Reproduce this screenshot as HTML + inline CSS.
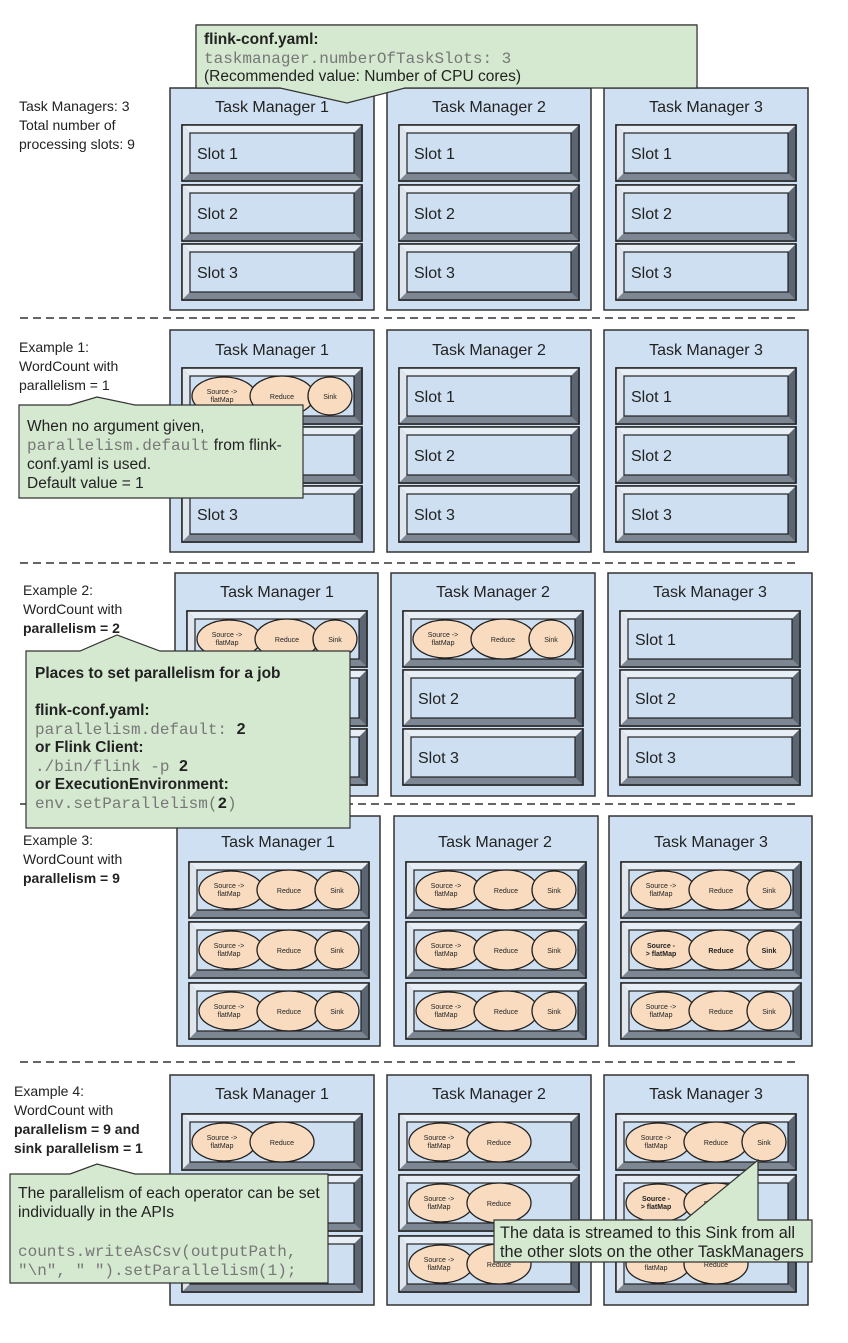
<!DOCTYPE html>
<html><head><meta charset="utf-8"><style>
html,body{margin:0;padding:0;background:#fff;width:848px;height:1343px;overflow:hidden}
svg{display:block}
text{font-family:"Liberation Sans",sans-serif;fill:#222}
.m{font-family:"Liberation Mono",monospace;fill:#777}
.tm{font-size:16px;text-anchor:middle}
.sl{font-size:16px}
.op{font-size:7px;text-anchor:middle}
.lb{font-size:14px}
.cl{font-size:15.5px}
.b{font-weight:bold}
</style></head><body>
<svg width="848" height="1343" viewBox="0 0 848 1343" xmlns="http://www.w3.org/2000/svg">
<defs>
<g id="slot">
<rect x="0" y="0" width="180" height="56" fill="#6f7b8a" stroke="#222" stroke-width="1.5"/>
<polygon points="0,0 180,0 172,8 8,8" fill="#e8eef5"/>
<polygon points="0,0 8,8 8,48 0,56" fill="#dfe6ee"/>
<polygon points="0,56 8,48 172,48 180,56" fill="#7d8794"/>
<polygon points="180,0 172,8 172,48 180,56" fill="#5c6673"/>
<rect x="0" y="0" width="180" height="56" fill="none" stroke="#222" stroke-width="1.5"/>
<rect x="8" y="8" width="164" height="40" fill="#cddff1" stroke="#222" stroke-width="1.2"/>
</g>
<g id="e2">
<ellipse cx="42" cy="28" rx="32" ry="19" fill="#f9dcc0" stroke="#222" stroke-width="1.3"/>
<ellipse cx="100" cy="28" rx="32" ry="20" fill="#f9dcc0" stroke="#222" stroke-width="1.3"/>
</g>
<g id="e3">
<use href="#e2"/>
<ellipse cx="148" cy="28" rx="22" ry="19" fill="#f9dcc0" stroke="#222" stroke-width="1.3"/>
</g>
</defs>

<!-- Section 1 -->
<text class="lb" x="19" y="111">Task Managers: 3</text>
<text class="lb" x="19" y="130">Total number of</text>
<text class="lb" x="19" y="149">processing slots: 9</text>
<rect x="170" y="88" width="204" height="222" fill="#cfe0f2" stroke="#333" stroke-width="1.5"/>
<rect x="387" y="88" width="204" height="222" fill="#cfe0f2" stroke="#333" stroke-width="1.5"/>
<rect x="604" y="88" width="204" height="222" fill="#cfe0f2" stroke="#333" stroke-width="1.5"/>
<text class="tm" x="272" y="112">Task Manager 1</text>
<text class="tm" x="489" y="112">Task Manager 2</text>
<text class="tm" x="706" y="112">Task Manager 3</text>
<use href="#slot" x="182" y="125"/><use href="#slot" x="182" y="185"/><use href="#slot" x="182" y="244"/>
<use href="#slot" x="399" y="125"/><use href="#slot" x="399" y="185"/><use href="#slot" x="399" y="244"/>
<use href="#slot" x="616" y="125"/><use href="#slot" x="616" y="185"/><use href="#slot" x="616" y="244"/>
<text class="sl" x="197" y="159">Slot 1</text><text class="sl" x="197" y="219">Slot 2</text><text class="sl" x="197" y="278">Slot 3</text>
<text class="sl" x="414" y="159">Slot 1</text><text class="sl" x="414" y="219">Slot 2</text><text class="sl" x="414" y="278">Slot 3</text>
<text class="sl" x="631" y="159">Slot 1</text><text class="sl" x="631" y="219">Slot 2</text><text class="sl" x="631" y="278">Slot 3</text>

<!-- top callout -->
<polygon points="196,25 697,25 697,88 405,88 347,103 280,88 196,88" fill="#d5e8d0" stroke="#333" stroke-width="1.2"/>
<rect x="196" y="25" width="501" height="60" fill="#d5e8d0"/>
<line x1="196" y1="25" x2="697" y2="25" stroke="#333" stroke-width="1.2"/>
<line x1="196" y1="25" x2="196" y2="88" stroke="#333" stroke-width="1.2"/>
<line x1="697" y1="25" x2="697" y2="88" stroke="#333" stroke-width="1.2"/>
<text class="cl b" x="204" y="44">flink-conf.yaml:</text>
<text class="m" x="204" y="63" font-size="16">taskmanager.numberOfTaskSlots: 3</text>
<text class="cl" x="204" y="81">(Recommended value: Number of CPU cores)</text>

<line x1="20" y1="318" x2="800" y2="318" stroke="#333" stroke-width="1.5" stroke-dasharray="8,5"/>

<!-- Section 2 -->
<text class="lb" x="19" y="352">Example 1:</text>
<text class="lb" x="19" y="371">WordCount with</text>
<text class="lb" x="19" y="390">parallelism = 1</text>
<rect x="170" y="330" width="204" height="222" fill="#cfe0f2" stroke="#333" stroke-width="1.5"/>
<rect x="387" y="330" width="204" height="222" fill="#cfe0f2" stroke="#333" stroke-width="1.5"/>
<rect x="604" y="330" width="204" height="222" fill="#cfe0f2" stroke="#333" stroke-width="1.5"/>
<text class="tm" x="272" y="355">Task Manager 1</text>
<text class="tm" x="489" y="355">Task Manager 2</text>
<text class="tm" x="706" y="355">Task Manager 3</text>
<use href="#slot" x="182" y="368"/><use href="#slot" x="182" y="427"/><use href="#slot" x="182" y="486"/>
<use href="#slot" x="399" y="368"/><use href="#slot" x="399" y="427"/><use href="#slot" x="399" y="486"/>
<use href="#slot" x="616" y="368"/><use href="#slot" x="616" y="427"/><use href="#slot" x="616" y="486"/>
<g transform="translate(182,368)"><use href="#e3"/><text class="op" x="40" y="26">Source -&gt;</text><text class="op" x="40" y="34">flatMap</text><text class="op" x="100" y="31">Reduce</text><text class="op" x="148" y="31">Sink</text></g>
<text class="sl" x="197" y="520">Slot 3</text>
<text class="sl" x="414" y="402">Slot 1</text><text class="sl" x="414" y="461">Slot 2</text><text class="sl" x="414" y="520">Slot 3</text>
<text class="sl" x="631" y="402">Slot 1</text><text class="sl" x="631" y="461">Slot 2</text><text class="sl" x="631" y="520">Slot 3</text>
<polygon points="19,405 70,405 97,397 135,405 303,405 303,498 19,498" fill="#d5e8d0" stroke="#333" stroke-width="1.2"/>
<text class="cl" x="27" y="431">When no argument given,</text>
<text class="cl" x="27" y="450"><tspan class="m" font-size="16">parallelism.default</tspan> from flink-</text>
<text class="cl" x="27" y="469">conf.yaml is used.</text>
<text class="cl" x="27" y="488">Default value = 1</text>

<line x1="20" y1="563" x2="800" y2="563" stroke="#333" stroke-width="1.5" stroke-dasharray="8,5"/>

<!-- Section 3 -->
<text class="lb" x="23" y="595">Example 2:</text>
<text class="lb" x="23" y="614">WordCount with</text>
<text class="lb b" x="23" y="633">parallelism = 2</text>
<rect x="175" y="573" width="203" height="223" fill="#cfe0f2" stroke="#333" stroke-width="1.5"/>
<rect x="391" y="573" width="204" height="223" fill="#cfe0f2" stroke="#333" stroke-width="1.5"/>
<rect x="608" y="573" width="204" height="223" fill="#cfe0f2" stroke="#333" stroke-width="1.5"/>
<text class="tm" x="277" y="597">Task Manager 1</text>
<text class="tm" x="493" y="597">Task Manager 2</text>
<text class="tm" x="710" y="597">Task Manager 3</text>
<use href="#slot" x="187" y="611"/><use href="#slot" x="187" y="670"/><use href="#slot" x="187" y="729"/>
<use href="#slot" x="403" y="611"/><use href="#slot" x="403" y="670"/><use href="#slot" x="403" y="729"/>
<use href="#slot" x="620" y="611"/><use href="#slot" x="620" y="670"/><use href="#slot" x="620" y="729"/>
<g transform="translate(187,611)"><use href="#e3"/><text class="op" x="40" y="26">Source -&gt;</text><text class="op" x="40" y="34">flatMap</text><text class="op" x="100" y="31">Reduce</text><text class="op" x="148" y="31">Sink</text></g>
<g transform="translate(403,611)"><use href="#e3"/><text class="op" x="40" y="26">Source -&gt;</text><text class="op" x="40" y="34">flatMap</text><text class="op" x="100" y="31">Reduce</text><text class="op" x="148" y="31">Sink</text></g>
<text class="sl" x="418" y="704">Slot 2</text><text class="sl" x="418" y="763">Slot 3</text>
<text class="sl" x="635" y="645">Slot 1</text><text class="sl" x="635" y="704">Slot 2</text><text class="sl" x="635" y="763">Slot 3</text>

<line x1="20" y1="804" x2="800" y2="804" stroke="#333" stroke-width="1.5" stroke-dasharray="8,5"/>

<!-- Section 4 -->
<text class="lb" x="23" y="845">Example 3:</text>
<text class="lb" x="23" y="864">WordCount with</text>
<text class="lb b" x="23" y="883">parallelism = 9</text>
<rect x="177" y="816" width="203" height="230" fill="#cfe0f2" stroke="#333" stroke-width="1.5"/>
<rect x="394" y="816" width="204" height="230" fill="#cfe0f2" stroke="#333" stroke-width="1.5"/>
<rect x="609" y="816" width="203" height="230" fill="#cfe0f2" stroke="#333" stroke-width="1.5"/>
<text class="tm" x="278" y="847">Task Manager 1</text>
<text class="tm" x="495" y="847">Task Manager 2</text>
<text class="tm" x="711" y="847">Task Manager 3</text>
<use href="#slot" x="189" y="862"/><use href="#slot" x="189" y="922"/><use href="#slot" x="189" y="983"/>
<use href="#slot" x="406" y="862"/><use href="#slot" x="406" y="922"/><use href="#slot" x="406" y="983"/>
<use href="#slot" x="621" y="862"/><use href="#slot" x="621" y="922"/><use href="#slot" x="621" y="983"/>
<g transform="translate(189,862)"><use href="#e3"/><text class="op" x="40" y="26">Source -&gt;</text><text class="op" x="40" y="34">flatMap</text><text class="op" x="100" y="31">Reduce</text><text class="op" x="148" y="31">Sink</text></g>
<g transform="translate(189,922)"><use href="#e3"/><text class="op" x="40" y="26">Source -&gt;</text><text class="op" x="40" y="34">flatMap</text><text class="op" x="100" y="31">Reduce</text><text class="op" x="148" y="31">Sink</text></g>
<g transform="translate(189,983)"><use href="#e3"/><text class="op" x="40" y="26">Source -&gt;</text><text class="op" x="40" y="34">flatMap</text><text class="op" x="100" y="31">Reduce</text><text class="op" x="148" y="31">Sink</text></g>
<g transform="translate(406,862)"><use href="#e3"/><text class="op" x="40" y="26">Source -&gt;</text><text class="op" x="40" y="34">flatMap</text><text class="op" x="100" y="31">Reduce</text><text class="op" x="148" y="31">Sink</text></g>
<g transform="translate(406,922)"><use href="#e3"/><text class="op" x="40" y="26">Source -&gt;</text><text class="op" x="40" y="34">flatMap</text><text class="op" x="100" y="31">Reduce</text><text class="op" x="148" y="31">Sink</text></g>
<g transform="translate(406,983)"><use href="#e3"/><text class="op" x="40" y="26">Source -&gt;</text><text class="op" x="40" y="34">flatMap</text><text class="op" x="100" y="31">Reduce</text><text class="op" x="148" y="31">Sink</text></g>
<g transform="translate(621,862)"><use href="#e3"/><text class="op" x="40" y="26">Source -&gt;</text><text class="op" x="40" y="34">flatMap</text><text class="op" x="100" y="31">Reduce</text><text class="op" x="148" y="31">Sink</text></g>
<g transform="translate(621,922)"><use href="#e3"/><text class="op b" x="40" y="26">Source -</text><text class="op b" x="40" y="34">&gt; flatMap</text><text class="op b" x="100" y="31">Reduce</text><text class="op b" x="148" y="31">Sink</text></g>
<g transform="translate(621,983)"><use href="#e3"/><text class="op" x="40" y="26">Source -&gt;</text><text class="op" x="40" y="34">flatMap</text><text class="op" x="100" y="31">Reduce</text><text class="op" x="148" y="31">Sink</text></g>

<!-- Example 2 callout (drawn over) -->
<polygon points="26,651 80,651 117,635 160,651 350,651 350,828 26,828" fill="#d5e8d0" stroke="#333" stroke-width="1.2"/>
<text class="cl b" x="35" y="678">Places to set parallelism for a job</text>
<text class="cl b" x="35" y="715">flink-conf.yaml:</text>
<text class="m" font-size="16" x="35" y="734">parallelism.default: <tspan font-weight="bold" fill="#222" font-family="Liberation Sans">2</tspan></text>
<text class="cl b" x="35" y="752">or Flink Client:</text>
<text class="m" font-size="16" x="35" y="771">./bin/flink -p <tspan font-weight="bold" fill="#222" font-family="Liberation Sans">2</tspan></text>
<text class="cl b" x="35" y="789">or ExecutionEnvironment:</text>
<text class="m" font-size="16" x="35" y="808">env.setParallelism(<tspan font-weight="bold" fill="#222">2</tspan>)</text>

<line x1="20" y1="1062" x2="800" y2="1062" stroke="#333" stroke-width="1.5" stroke-dasharray="8,5"/>

<!-- Section 5 -->
<text class="lb" x="14" y="1096">Example 4:</text>
<text class="lb" x="14" y="1115">WordCount with</text>
<text class="lb b" x="14" y="1134">parallelism = 9 and</text>
<text class="lb b" x="14" y="1153">sink parallelism = 1</text>
<rect x="170" y="1075" width="204" height="230" fill="#cfe0f2" stroke="#333" stroke-width="1.5"/>
<rect x="387" y="1075" width="204" height="230" fill="#cfe0f2" stroke="#333" stroke-width="1.5"/>
<rect x="604" y="1075" width="204" height="230" fill="#cfe0f2" stroke="#333" stroke-width="1.5"/>
<text class="tm" x="272" y="1099">Task Manager 1</text>
<text class="tm" x="489" y="1099">Task Manager 2</text>
<text class="tm" x="706" y="1099">Task Manager 3</text>
<use href="#slot" x="182" y="1114"/><use href="#slot" x="182" y="1175"/><use href="#slot" x="182" y="1236"/>
<use href="#slot" x="399" y="1114"/><use href="#slot" x="399" y="1175"/><use href="#slot" x="399" y="1236"/>
<use href="#slot" x="616" y="1114"/><use href="#slot" x="616" y="1175"/><use href="#slot" x="616" y="1236"/>
<g transform="translate(182,1114)"><use href="#e2"/><text class="op" x="40" y="26">Source -&gt;</text><text class="op" x="40" y="34">flatMap</text><text class="op" x="100" y="31">Reduce</text></g>
<g transform="translate(399,1114)"><use href="#e2"/><text class="op" x="40" y="26">Source -&gt;</text><text class="op" x="40" y="34">flatMap</text><text class="op" x="100" y="31">Reduce</text></g>
<g transform="translate(399,1175)"><use href="#e2"/><text class="op" x="40" y="26">Source -&gt;</text><text class="op" x="40" y="34">flatMap</text><text class="op" x="100" y="31">Reduce</text></g>
<g transform="translate(399,1236)"><use href="#e2"/><text class="op" x="40" y="26">Source -&gt;</text><text class="op" x="40" y="34">flatMap</text><text class="op" x="100" y="31">Reduce</text></g>
<g transform="translate(616,1114)"><use href="#e3"/><text class="op" x="40" y="26">Source -&gt;</text><text class="op" x="40" y="34">flatMap</text><text class="op" x="100" y="31">Reduce</text><text class="op" x="148" y="31">Sink</text></g>
<g transform="translate(616,1175)"><use href="#e2"/><text class="op b" x="40" y="26">Source -</text><text class="op b" x="40" y="34">&gt; flatMap</text><text class="op" x="100" y="31">Reduce</text></g>
<g transform="translate(616,1236)"><use href="#e2"/><text class="op" x="40" y="26">Source -&gt;</text><text class="op" x="40" y="34">flatMap</text><text class="op" x="100" y="31">Reduce</text></g>

<!-- Example 4 callouts -->
<polygon points="10,1174 70,1174 97,1164 135,1174 328,1174 328,1283 10,1283" fill="#d5e8d0" stroke="#333" stroke-width="1.2"/>
<text x="18" y="1198" font-size="15.7">The parallelism of each operator can be set</text>
<text x="18" y="1217" font-size="15.7">individually in the APIs</text>
<text class="m" font-size="16" x="18" y="1256">counts.writeAsCsv(outputPath,</text>
<text class="m" font-size="16" x="18" y="1275">"\n", " ").setParallelism(1);</text>

<polygon points="494,1220 685,1220 758,1160 758,1220 812,1220 812,1262 494,1262" fill="#d5e8d0" stroke="#333" stroke-width="1.2"/>
<text x="500" y="1238" font-size="16.3">The data is streamed to this Sink from all</text>
<text x="500" y="1257" font-size="16.3">the other slots on the other TaskManagers</text>
</svg>
</body></html>
